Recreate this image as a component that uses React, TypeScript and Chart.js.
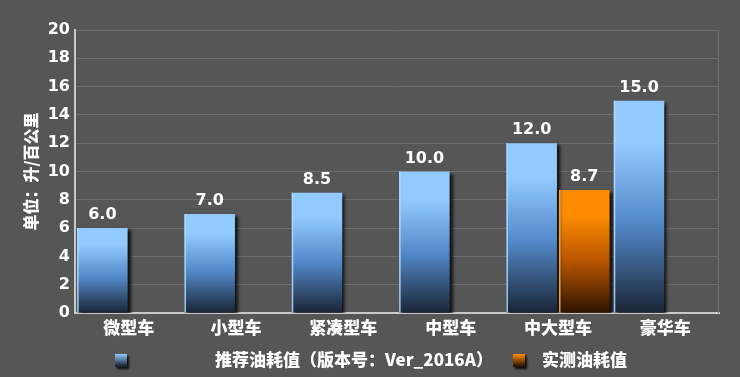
import React, { useEffect, useRef } from 'react';
import { Chart, registerables } from 'chart.js';
Chart.register(...registerables);

const categories = ['微型车', '小型车', '紧凑型车', '中型车', '中大型车', '豪华车'];
const recommended = [6.0, 7.0, 8.5, 10.0, 12.0, 15.0];
const measured: (number | null)[] = [null, null, null, null, 8.7, null];
const seriesNames = ['推荐油耗值（版本号：Ver_2016A）', '实测油耗值'];
const yAxisTitle = '单位：升/百公里';
const yMin = 0;
const yMax = 20;
const yStep = 2;

const FONT = "'DejaVu Sans', 'Noto Sans CJK SC', sans-serif";
const CJK = "'Noto Sans CJK SC', 'DejaVu Sans', sans-serif";
const BG = '#565656';
const GRID = '#6e6e6e';
const AXIS = '#c9c9c9';

const blueStops = ['#92caff', '#5288c8', '#1a2536'];
const orangeStops = ['#ff8c00', '#b85400', '#2e1400'];
const edgeColors = ['rgba(175,218,255,0.9)', 'rgba(255,180,90,0.9)'];

function makeGrad(ctx: CanvasRenderingContext2D, top: number, bottom: number, stops: string[]) {
  const g = ctx.createLinearGradient(0, top, 0, bottom);
  g.addColorStop(0, stops[0]);
  g.addColorStop(0.2, stops[0]);
  g.addColorStop(0.58, stops[1]);
  g.addColorStop(1, stops[2]);
  return g;
}

function barFill(stops: string[]) {
  return (c: any) => {
    const chart = c.chart;
    const y = chart.scales && chart.scales.y;
    const v = c.raw;
    if (!y || v == null || !chart.ctx) return stops[0];
    const top = y.getPixelForValue(v);
    const bottom = y.getPixelForValue(0);
    if (!isFinite(top) || !isFinite(bottom)) return stops[0];
    return makeGrad(chart.ctx, top, bottom, stops);
  };
}

const shadowPlugin = {
  id: 'barShadow',
  beforeDatasetDraw(chart: any) {
    const ctx = chart.ctx;
    ctx.save();
    ctx.shadowColor = 'rgba(0,0,0,0.8)';
    ctx.shadowOffsetX = 3;
    ctx.shadowOffsetY = 2;
    ctx.shadowBlur = 3;
  },
  afterDatasetDraw(chart: any) {
    chart.ctx.restore();
  },
};

const decorPlugin = {
  id: 'decor',
  beforeDraw(chart: any) {
    const ctx = chart.ctx;
    ctx.save();
    ctx.fillStyle = BG;
    ctx.fillRect(0, 0, chart.width, chart.height);
    ctx.restore();
  },
  afterDatasetsDraw(chart: any) {
    const ctx = chart.ctx;
    const { right, top, bottom } = chart.chartArea;
    ctx.save();
    ctx.strokeStyle = GRID;
    ctx.lineWidth = 1;
    ctx.beginPath();
    ctx.moveTo(right - 0.5, top);
    ctx.lineTo(right - 0.5, bottom);
    ctx.stroke();
    // bar left highlight edges
    chart.data.datasets.forEach((ds: any, di: number) => {
      const meta = chart.getDatasetMeta(di);
      ctx.strokeStyle = edgeColors[di];
      ctx.lineWidth = 1.5;
      meta.data.forEach((el: any, i: number) => {
        if (ds.data[i] == null) return;
        const x = el.x - el.width / 2 + 0.75;
        ctx.beginPath();
        ctx.moveTo(x, el.y);
        ctx.lineTo(x, el.base);
        ctx.stroke();
      });
    });
    // value labels
    ctx.fillStyle = '#ffffff';
    ctx.font = `bold 16px ${FONT}`;
    ctx.textAlign = 'center';
    ctx.textBaseline = 'middle';
    chart.data.datasets.forEach((ds: any, di: number) => {
      const meta = chart.getDatasetMeta(di);
      meta.data.forEach((el: any, i: number) => {
        const v = ds.data[i];
        if (v == null) return;
        ctx.fillText(Number(v).toFixed(1), el.x, el.y - 13);
      });
    });
    ctx.restore();
  },
  afterDraw(chart: any) {
    const ctx = chart.ctx;
    ctx.save();
    const items = [
      { box: 115, text: 215, stops: blueStops, name: seriesNames[0] },
      { box: 513, text: 542, stops: orangeStops, name: seriesNames[1] },
    ];
    const cy = 360;
    items.forEach((it) => {
      ctx.save();
      ctx.shadowColor = 'rgba(0,0,0,0.85)';
      ctx.shadowOffsetX = 2;
      ctx.shadowOffsetY = 2;
      ctx.shadowBlur = 2;
      const g = ctx.createLinearGradient(0, cy - 6, 0, cy + 6);
      g.addColorStop(0, it.stops[0]);
      g.addColorStop(1, it.stops[2]);
      ctx.fillStyle = g;
      ctx.fillRect(it.box, cy - 6, 12, 13);
      ctx.restore();
      ctx.fillStyle = '#ffffff';
      ctx.font = `900 17px ${CJK}`;
      ctx.textAlign = 'left';
      ctx.textBaseline = 'middle';
      ctx.fillText(it.name, it.text, cy);
    });
    ctx.restore();
  },
};

export default function App() {
  const ref = useRef<HTMLCanvasElement | null>(null);
  useEffect(() => {
    if (!ref.current) return;
    const chart = new Chart(ref.current, {
      type: 'bar',
      data: {
        labels: categories,
        datasets: [
          {
            label: seriesNames[0],
            data: recommended,
            backgroundColor: barFill(blueStops) as any,
            borderWidth: 0,
          },
          {
            label: seriesNames[1],
            data: measured,
            backgroundColor: barFill(orangeStops) as any,
            borderWidth: 0,
          },
        ],
      },
      options: {
        animation: false,
        responsive: false,
        maintainAspectRatio: false,
        layout: { padding: { top: 30, right: 21, left: 0, bottom: 0 } },
        datasets: { bar: { categoryPercentage: 0.98, barPercentage: 0.96 } },
        plugins: {
          legend: { display: false },
          tooltip: { enabled: false },
        },
        scales: {
          x: {
            grid: { display: false },
            border: { color: AXIS, width: 2 },
            ticks: {
              color: '#ffffff',
              font: { family: CJK, size: 17, weight: 900 },
              padding: -4,
              maxRotation: 0,
            },
            afterFit: (s: any) => {
              s.height = 64;
            },
          },
          y: {
            min: yMin,
            max: yMax,
            grid: { color: GRID, drawTicks: false },
            border: { color: AXIS, width: 2 },
            ticks: {
              stepSize: yStep,
              color: '#ffffff',
              font: { family: FONT, size: 16, weight: 'bold' },
              padding: 5,
            },
            title: {
              display: true,
              text: yAxisTitle,
              color: '#ffffff',
              font: { family: CJK, size: 16, weight: 900 },
              padding: { top: 21, bottom: 0 },
            },
            afterFit: (s: any) => {
              s.width = 75;
            },
          },
        },
      } as any,
      plugins: [shadowPlugin, decorPlugin],
    });
    return () => chart.destroy();
  }, []);
  return (
    <div style={{ position: 'fixed', left: 0, top: 0, width: 740, height: 377, background: BG }}>
      <canvas ref={ref} width={740} height={377} style={{ display: 'block', width: 740, height: 377 }} />
    </div>
  );
}
